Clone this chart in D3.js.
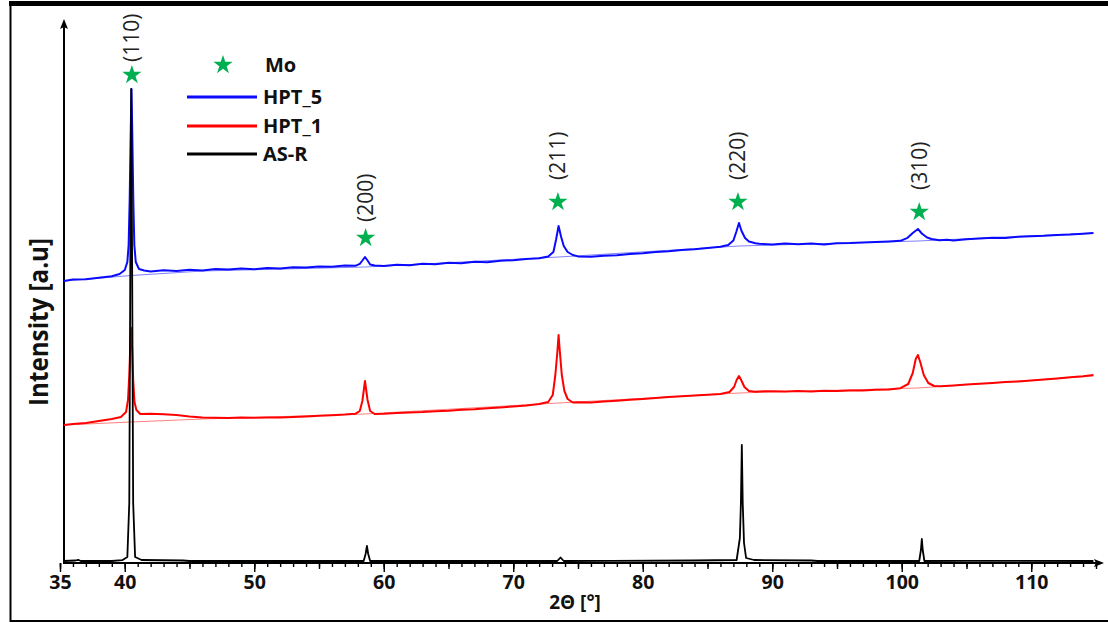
<!DOCTYPE html>
<html>
<head>
<meta charset="utf-8">
<script src="https://cdn.jsdelivr.net/npm/d3@7"></script>
<style>
    body { margin: 0; background: #fff; }
    svg { display: block; font-family: "Open Sans", "DejaVu Sans", sans-serif; }
</style>
</head>
<body>
<svg id="chart"></svg>
<script>
// XRD patterns, [2theta in deg, intensity in a.u.]
const hpt5 = [
    [35.3, 2820], [36, 2835], [37, 2838], [38, 2852], [39, 2868], [39.6, 2890], [40.0, 2930], [40.2, 3010],
    [40.3, 3180], [40.38, 3630], [40.45, 4230], [40.52, 4740], [40.59, 4230], [40.66, 3630], [40.74, 3180],
    [40.85, 3010], [41.1, 2940], [41.5, 2925], [42, 2915], [43, 2928], [44, 2920], [45, 2932], [46, 2926],
    [47, 2940], [48, 2934], [49, 2945], [50, 2938], [51, 2950], [52, 2946], [53, 2958], [54, 2955], [55, 2966],
    [56, 2962], [57, 2975], [57.8, 2972], [58.15, 2992], [58.35, 3025], [58.55, 3060], [58.75, 3025],
    [58.95, 2985], [59.3, 2975], [60, 2970], [61, 2982], [62, 2978], [63, 2992], [64, 2988], [65, 3002],
    [66, 2998], [67, 3012], [68, 3008], [69, 3022], [70, 3028], [71, 3040], [72, 3048], [72.7, 3065],
    [73.1, 3110], [73.3, 3230], [73.5, 3370], [73.7, 3260], [73.9, 3170], [74.2, 3110], [74.6, 3080],
    [75, 3066], [76, 3062], [77, 3072], [78, 3078], [79, 3090], [80, 3098], [81, 3110], [82, 3118],
    [83, 3130], [84, 3138], [85, 3150], [86, 3162], [86.6, 3180], [87.0, 3225], [87.22, 3310], [87.43, 3400],
    [87.63, 3320], [87.9, 3250], [88.2, 3215], [88.7, 3198], [89, 3192], [90, 3185], [91, 3196], [92, 3188],
    [93, 3194], [94, 3186], [95, 3198], [96, 3200], [97, 3206], [98, 3210], [99, 3216], [99.9, 3222],
    [100.45, 3252], [100.85, 3300], [101.25, 3340], [101.55, 3295], [101.95, 3255], [102.3, 3240],
    [102.9, 3228], [103.5, 3232], [104, 3226], [105, 3238], [106, 3246], [107, 3252], [108, 3250],
    [109, 3262], [110, 3268], [111, 3272], [112, 3280], [113, 3284], [114, 3292], [114.8, 3300]
];
const hpt1 = [
    [35.3, 1380], [36, 1390], [37, 1400], [38, 1420], [39, 1440], [39.7, 1460], [40.1, 1510], [40.25, 1630],
    [40.35, 1880], [40.43, 2180], [40.5, 2350], [40.57, 2150], [40.65, 1830], [40.75, 1610], [40.9, 1530],
    [41.2, 1490], [42, 1492], [43, 1488], [44, 1480], [45, 1466], [46, 1455], [47, 1452], [48, 1450],
    [49, 1454], [50, 1452], [51, 1456], [52, 1456], [53, 1460], [54, 1466], [55, 1472], [56, 1478],
    [57, 1484], [57.8, 1492], [58.15, 1520], [58.35, 1620], [58.55, 1820], [58.75, 1630], [58.95, 1520],
    [59.3, 1490], [60, 1492], [61, 1500], [62, 1506], [63, 1510], [64, 1518], [65, 1522], [66, 1532],
    [67, 1538], [68, 1548], [69, 1556], [70, 1566], [71, 1576], [72, 1590], [72.7, 1610], [73.05, 1680],
    [73.25, 1880], [73.4, 2100], [73.5, 2280], [73.6, 2110], [73.75, 1880], [73.95, 1720], [74.2, 1640],
    [74.6, 1605], [75, 1608], [76, 1604], [77, 1614], [78, 1622], [79, 1632], [80, 1640], [81, 1650],
    [82, 1660], [83, 1668], [84, 1676], [85, 1682], [86, 1690], [86.7, 1710], [87.05, 1760], [87.25, 1830],
    [87.43, 1870], [87.6, 1830], [87.85, 1760], [88.2, 1720], [88.7, 1712], [89, 1716], [90, 1718],
    [91, 1714], [92, 1720], [93, 1716], [94, 1722], [95, 1720], [96, 1724], [97, 1726], [98, 1732],
    [99, 1736], [99.9, 1748], [100.5, 1790], [100.85, 1900], [101.08, 2040], [101.25, 2080], [101.45, 2000],
    [101.7, 1880], [102.05, 1800], [102.5, 1770], [103, 1768], [104, 1776], [105, 1784], [106, 1792],
    [107, 1800], [108, 1810], [109, 1816], [110, 1826], [111, 1836], [112, 1846], [113, 1858], [114, 1868],
    [114.8, 1880]
];
const asR = [
    [35.3, 20], [36.2, 25], [36.4, 32], [36.6, 20], [39, 20], [39.8, 28], [40.2, 60], [40.35, 600],
    [40.43, 3000], [40.5, 4740], [40.57, 3000], [40.65, 600], [40.8, 60], [41.3, 30], [44.5, 25], [45, 20],
    [58.45, 20], [58.6, 90], [58.7, 170], [58.8, 90], [58.95, 20], [73.4, 20], [73.65, 55], [73.9, 20],
    [77.5, 22], [84, 25], [87.25, 30], [87.5, 250], [87.58, 600], [87.65, 1180], [87.72, 600], [87.82, 200],
    [87.98, 50], [88.6, 30], [93, 25], [93.5, 20], [101.35, 20], [101.48, 130], [101.55, 240],
    [101.62, 130], [101.75, 20], [105, 22], [114.8, 20]
];
// fitted background under the HPT patterns
const hpt5Background = [[35.3, 2820], [40.5, 2875], [46, 2920], [58.55, 2960], [73.5, 3060], [87.43, 3170], [101.25, 3220], [114.8, 3300]];
const hpt1Background = [[35.3, 1380], [40.5, 1410], [46, 1440], [58.55, 1490], [73.5, 1600], [87.43, 1700], [101.25, 1750], [114.8, 1870]];

// Mo reflections
const peakHkl = ['(110)', '(200)', '(211)', '(220)', '(310)'];
const peakTheta = [40.55, 58.6, 73.45, 87.35, 101.35];
const starLevel = [4880, 3250, 3610, 3610, 3510];
const labelLevel = [5010, 3410, 3830, 3830, 3730];

const seriesNames = ['HPT_5', 'HPT_1', 'AS-R'];
const xTickLabels = [35, 40, 50, 60, 70, 80, 90, 100, 110];

const width = 1108;
const height = 623;
const margin = { left: 64, right: 5, top: 20, bottom: 60 };
const green = '#00b050';

const svg = d3.select('svg#chart').attr('width', width).attr('height', height);

const x = d3.scaleLinear().domain([35, 115]).range([60, 1096]);
const y = d3.scaleLinear().domain([0, 5430]).range([height - margin.bottom, margin.top]);
const axisY = height - margin.bottom;

// frame
svg.append('line').attr('x1', 9).attr('x2', width).attr('y1', 3.5).attr('y2', 3.5)
    .attr('stroke', '#000').attr('stroke-width', 5);
svg.append('line').attr('x1', 10.5).attr('x2', 10.5).attr('y1', 3).attr('y2', 622)
    .attr('stroke', '#000').attr('stroke-width', 2);
svg.append('line').attr('x1', 10).attr('x2', width).attr('y1', 621).attr('y2', 621)
    .attr('stroke', '#000').attr('stroke-width', 2);

// x ticks: minor every 1, mid every 5, labelled ones longer
function tickAxis(values, size, labels) {
    const g = svg.append('g')
        .attr('transform', 'translate(0,' + axisY + ')')
        .call(d3.axisBottom(x).tickValues(values).tickSize(size).tickPadding(3)
            .tickFormat(labels ? d3.format('d') : ''));
    g.select('.domain').remove();
    g.selectAll('.tick line').attr('stroke', '#000').attr('stroke-width', 1.4);
    g.selectAll('.tick text').attr('font-size', 19.5).attr('font-weight', 700)
        .attr('font-family', '"Open Sans", sans-serif').attr('fill', '#111');
}
tickAxis(d3.range(35, 116, 1), 4, false);
tickAxis(d3.range(35, 116, 5), 6, false);
tickAxis(xTickLabels, 9, true);

// axis lines with arrow heads
svg.append('line').attr('x1', margin.left).attr('x2', 1098).attr('y1', axisY).attr('y2', axisY)
    .attr('stroke', '#000').attr('stroke-width', 2);
svg.append('path').attr('d', `M1104,${axisY} L1094,${axisY - 4} L1096,${axisY} L1094,${axisY + 4} Z`).attr('fill', '#000');
svg.append('line').attr('x1', margin.left).attr('x2', margin.left).attr('y1', axisY + 1).attr('y2', 26)
    .attr('stroke', '#000').attr('stroke-width', 2);
svg.append('path').attr('d', `M${margin.left},19 L${margin.left - 4},29 L${margin.left},27 L${margin.left + 4},29 Z`).attr('fill', '#000');

// axis titles
svg.append('text').attr('x', 575).attr('y', 609).attr('text-anchor', 'middle')
    .attr('font-size', 19).attr('font-weight', 700).attr('fill', '#111').text('2Θ [°]');
svg.append('text').attr('transform', 'translate(48,322) rotate(-90)').attr('text-anchor', 'middle')
    .attr('font-size', 27).attr('font-weight', 700).attr('fill', '#111')
    .attr('textLength', 168).attr('lengthAdjust', 'spacingAndGlyphs').text('Intensity [a.u]');

// patterns
const line = d3.line().x(d => x(d[0])).y(d => y(d[1]));

svg.append('path').datum(hpt5Background).attr('d', line).attr('fill', 'none')
    .attr('stroke', '#8080ff').attr('stroke-width', 1);
svg.append('path').datum(hpt1Background).attr('d', line).attr('fill', 'none')
    .attr('stroke', '#ff8080').attr('stroke-width', 1);
svg.append('path').datum(hpt5).attr('d', line).attr('fill', 'none')
    .attr('stroke', '#0a0aff').attr('stroke-width', 2).attr('stroke-linejoin', 'round');
svg.append('path').datum(hpt1).attr('d', line).attr('fill', 'none')
    .attr('stroke', '#ff0000').attr('stroke-width', 2).attr('stroke-linejoin', 'round');
svg.append('path').datum(asR).attr('d', line).attr('fill', 'none')
    .attr('stroke', '#000').attr('stroke-width', 1.8).attr('stroke-linejoin', 'round');

// peak markers and Miller indices
const star = d3.symbol().type(d3.symbolStar).size(115);
peakTheta.forEach(function (t, i) {
    svg.append('path').attr('d', star)
        .attr('transform', 'translate(' + x(t) + ',' + y(starLevel[i]) + ')')
        .attr('fill', green);
    svg.append('text')
        .attr('transform', 'translate(' + x(t) + ',' + y(labelLevel[i]) + ') rotate(-90)')
        .attr('dy', '0.36em')
        .attr('font-size', 21).attr('fill', '#222').text(peakHkl[i]);
});

// legend
const legend = svg.append('g');
legend.append('path').attr('d', star).attr('transform', 'translate(223,65)').attr('fill', green);
legend.append('text').attr('x', 265).attr('y', 72).attr('font-size', 20).attr('font-weight', 700)
    .attr('fill', '#111').text('Mo');
const legendColors = ['#0a0aff', '#ff0000', '#000'];
const legendY = [97, 126, 154];
seriesNames.forEach(function (name, i) {
    legend.append('line').attr('x1', 187).attr('x2', 257).attr('y1', legendY[i]).attr('y2', legendY[i])
        .attr('stroke', legendColors[i]).attr('stroke-width', 3);
    legend.append('text').attr('x', 263).attr('y', legendY[i] + 7).attr('font-size', 20).attr('font-weight', 700)
        .attr('fill', '#111').text(name);
});
</script>
</body>
</html>
